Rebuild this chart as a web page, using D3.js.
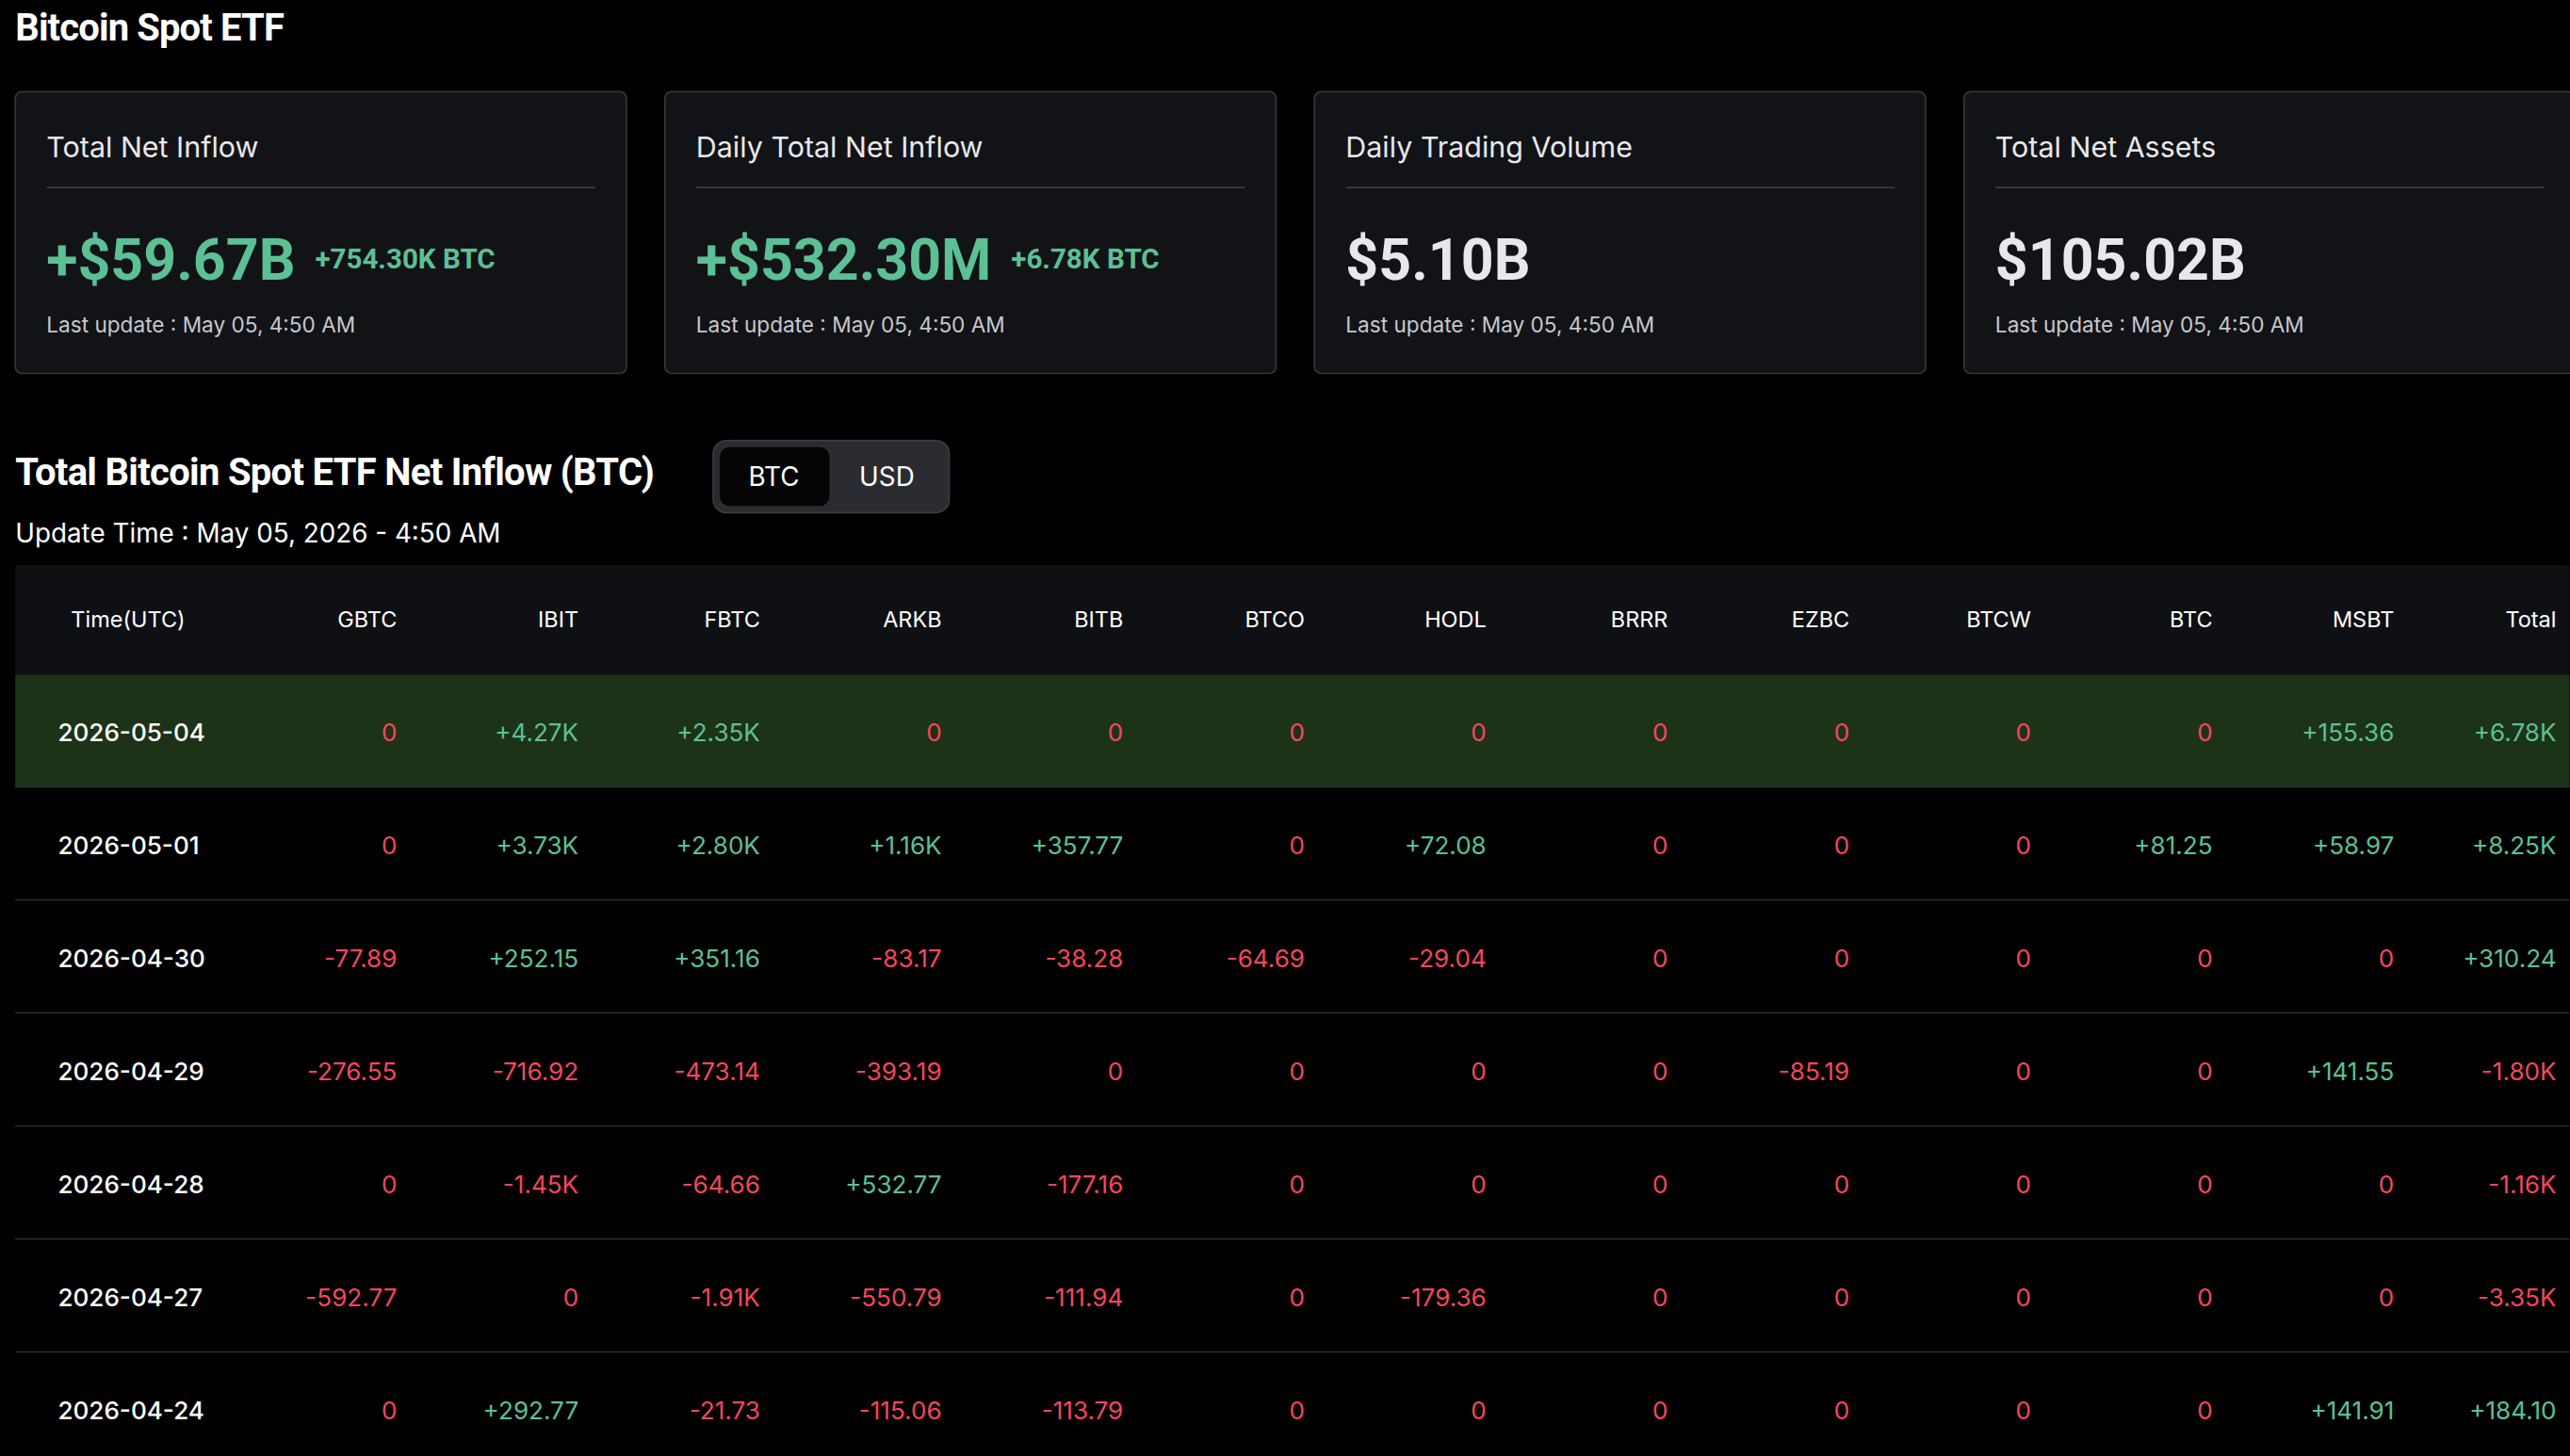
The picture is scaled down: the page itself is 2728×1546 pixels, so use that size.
<!DOCTYPE html>
<html><head><meta charset="utf-8">
<script src="https://cdn.jsdelivr.net/npm/d3@7/dist/d3.min.js"></script>
<style>html,body{margin:0;padding:0;background:#000;overflow:hidden}</style>
</head><body><svg id="c"></svg>
<script>
const dates = ["2026-05-04","2026-05-01","2026-04-30","2026-04-29","2026-04-28","2026-04-27","2026-04-24"];
const tickers = ["GBTC","IBIT","FBTC","ARKB","BITB","BTCO","HODL","BRRR","EZBC","BTCW","BTC","MSBT","Total"];
const GBTC = ["0","0","-77.89","-276.55","0","-592.77","0"];
const IBIT = ["+4.27K","+3.73K","+252.15","-716.92","-1.45K","0","+292.77"];
const FBTC = ["+2.35K","+2.80K","+351.16","-473.14","-64.66","-1.91K","-21.73"];
const ARKB = ["0","+1.16K","-83.17","-393.19","+532.77","-550.79","-115.06"];
const BITB = ["0","+357.77","-38.28","0","-177.16","-111.94","-113.79"];
const BTCO = ["0","0","-64.69","0","0","0","0"];
const HODL = ["0","+72.08","-29.04","0","0","-179.36","0"];
const BRRR = ["0","0","0","0","0","0","0"];
const EZBC = ["0","0","0","-85.19","0","0","0"];
const BTCW = ["0","0","0","0","0","0","0"];
const BTC  = ["0","+81.25","0","0","0","0","0"];
const MSBT = ["+155.36","+58.97","0","+141.55","0","0","+141.91"];
const Total = ["+6.78K","+8.25K","+310.24","-1.80K","-1.16K","-3.35K","+184.10"];
const series = {GBTC,IBIT,FBTC,ARKB,BITB,BTCO,HODL,BRRR,EZBC,BTCW,BTC,MSBT,Total};
const cardTitles = ["Total Net Inflow","Daily Total Net Inflow","Daily Trading Volume","Total Net Assets"];
const cardValues = ["+$59.67B","+$532.30M","$5.10B","$105.02B"];
const cardSub = ["+754.30K BTC","+6.78K BTC","",""];

const W=1568,H=889;
const svg=d3.select("#c").attr("width",2728).attr("height",1546).attr("viewBox",`0 0 ${W} ${H}`);
const F="Inter, 'Noto Sans', sans-serif";
const FB="Roboto, 'Liberation Sans Narrow', sans-serif";
const GREEN="#5cc095", RED="#f6465d";
svg.append("rect").attr("width",W).attr("height",H).attr("fill","#000");
svg.append("text").attr("x",9).attr("y",25).attr("fill","#fff").attr("font-family",FB).attr("font-size",23).attr("font-weight",700).attr("letter-spacing",-0.5).text("Bitcoin Spot ETF");

const cx=d3.scaleLinear().domain([0,1]).range([9,405.5]);
cardTitles.forEach((t,i)=>{
  const g=svg.append("g").attr("transform",`translate(${cx(i)},56)`);
  g.append("rect").attr("width",373).attr("height",172).attr("rx",4).attr("fill","#121317").attr("stroke","#34363c");
  g.append("text").attr("x",19).attr("y",40).attr("fill","#e8e8ea").attr("font-family",F).attr("font-size",17.5).text(t);
  g.append("line").attr("x1",19).attr("x2",354).attr("y1",58.5).attr("y2",58.5).attr("stroke","#3a3c42");
  const v=g.append("text").attr("x",19).attr("y",115).attr("font-family",FB).attr("font-weight",700).attr("font-size",35)
    .attr("fill",cardSub[i]?GREEN:"#e8e8ea").text(cardValues[i]);
  if(cardSub[i]){const w=v.node().getComputedTextLength();
    g.append("text").attr("x",19+w+12).attr("y",108).attr("fill",GREEN).attr("font-family",FB).attr("font-weight",700).attr("font-size",17).text(cardSub[i]);}
  g.append("text").attr("x",19).attr("y",147).attr("fill","#c8c8cc").attr("font-family",F).attr("font-size",13).text("Last update : May 05, 4:50 AM");
});

svg.append("text").attr("x",9).attr("y",296).attr("fill","#fff").attr("font-family",FB).attr("font-size",23).attr("font-weight",700).attr("letter-spacing",-0.4).text("Total Bitcoin Spot ETF Net Inflow (BTC)");
svg.append("rect").attr("x",435).attr("y",269).attr("width",144).attr("height",44).attr("rx",8).attr("fill","#2a2c31").attr("stroke","#3a3c42");
svg.append("rect").attr("x",439).attr("y",273).attr("width",67).attr("height",36).attr("rx",6).attr("fill","#050505");
svg.append("text").attr("x",472).attr("y",297).attr("text-anchor","middle").attr("fill","#fff").attr("font-family",F).attr("font-size",16).text("BTC");
svg.append("text").attr("x",541).attr("y",297).attr("text-anchor","middle").attr("fill","#fff").attr("font-family",F).attr("font-size",16).text("USD");
svg.append("text").attr("x",9).attr("y",331).attr("fill","#fff").attr("font-family",F).attr("font-size",16).text("Update Time : May 05, 2026 - 4:50 AM");

// table
const colScale=d3.scalePoint().domain(tickers.slice(0,12)).range([242,1461]);
const tx=t=>t==="Total"?1560:colScale(t);
const ty=d3.scaleBand().domain(dates).range([412,412+69*7]);
svg.append("rect").attr("x",9).attr("y",345).attr("width",W-9).attr("height",67).attr("fill","#0f1013");
svg.append("text").attr("x",43).attr("y",383).attr("fill","#fff").attr("font-family",F).attr("font-size",13.5).text("Time(UTC)");
svg.selectAll(".th").data(tickers).join("text").attr("x",d=>tx(d)).attr("y",383).attr("text-anchor","end")
  .attr("fill","#fff").attr("font-family",F).attr("font-size",13.5).text(d=>d);
const rows=svg.selectAll(".row").data(dates).join("g").attr("transform",d=>`translate(0,${ty(d)})`);
rows.append("rect").attr("x",9).attr("width",W-9).attr("height",ty.bandwidth()).attr("fill",(d,i)=>i==0?"#1d3318":"#000");
rows.append("line").attr("x1",9).attr("x2",W).attr("y1",ty.bandwidth()-0.5).attr("y2",ty.bandwidth()-0.5).attr("stroke","#2c2e33");
rows.append("text").attr("x",35).attr("y",ty.bandwidth()/2+6).attr("fill","#fff").attr("font-family",F).attr("font-size",15).attr("font-weight",500).text(d=>d);
rows.each(function(d,ri){
  d3.select(this).selectAll("text.v").data(tickers).join("text").attr("class","v")
   .attr("x",t=>tx(t)).attr("y",ty.bandwidth()/2+6).attr("text-anchor","end").attr("font-family",F).attr("font-size",15)
   .attr("fill",t=>series[t][ri].startsWith("+")?GREEN:RED).text(t=>series[t][ri]);
});
</script></body></html>
